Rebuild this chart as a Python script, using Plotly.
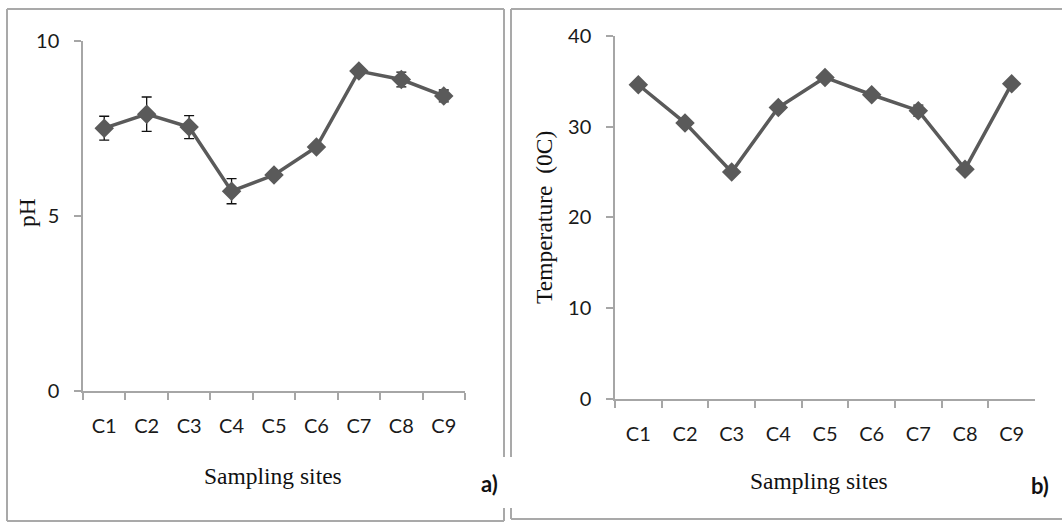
import plotly.graph_objects as go

sites = ["C1", "C2", "C3", "C4", "C5", "C6", "C7", "C8", "C9"]
ph_values = [7.51, 7.91, 7.54, 5.71, 6.17, 6.97, 9.14, 8.90, 8.43]
ph_errors = [0.34, 0.49, 0.33, 0.36, 0.0, 0.0, 0.0, 0.21, 0.17]
temp_values = [34.6, 30.4, 25.0, 32.1, 35.4, 33.5, 31.75, 25.3, 34.7]
temp_errors = [0, 0, 0, 0, 0, 0, 0.6, 0, 0]
ph_ticks = [0, 5, 10]
temp_ticks = [0, 10, 20, 30, 40]

W, H = 1062, 522
def px(x): return x / W
def py(y): return 1 - y / H

LINE = "#5a5a5a"
AXC = "#a6a6a6"
TICKFONT = dict(family="Lato, Open Sans, sans-serif", size=20, color="#1a1a1a")
SERIF = dict(family="Liberation Serif, Times New Roman, serif", size=23.5, color="#111111")

fig = go.Figure()
fig.add_trace(go.Scatter(
    x=sites, y=ph_values, mode="lines+markers", xaxis="x", yaxis="y",
    line=dict(color=LINE, width=3.5),
    marker=dict(symbol="diamond", size=15, color=LINE),
    error_y=dict(type="data", array=ph_errors, visible=True, color="#111111", thickness=1.3, width=5),
    showlegend=False,
))
fig.add_trace(go.Scatter(
    x=sites, y=temp_values, mode="lines+markers", xaxis="x2", yaxis="y2",
    line=dict(color=LINE, width=3.5),
    marker=dict(symbol="diamond", size=15, color=LINE),
    error_y=dict(type="data", array=temp_errors, visible=True, color="#111111", thickness=1.3, width=5),
    showlegend=False,
))

xcommon = dict(type="category", showgrid=False, zeroline=False, showline=True, linecolor=AXC, linewidth=1.5,
               ticks="outside", tickson="boundaries", ticklen=7, tickcolor=AXC, tickwidth=1.5,
               tickfont=TICKFONT, ticklabelstandoff=16, range=[-0.5, 8.5], fixedrange=True,
               automargin=False)
ycommon = dict(showgrid=False, zeroline=False, showline=True, linecolor=AXC, linewidth=1.5,
               ticks="outside", ticklen=7, tickcolor=AXC, tickwidth=1.5, tickfont=TICKFONT,
               ticklabelstandoff=11, fixedrange=True, automargin=False)

fig.update_layout(
    template="none",
    width=W, height=H, margin=dict(l=0, r=0, t=0, b=0, pad=0, autoexpand=False),
    paper_bgcolor="white", plot_bgcolor="white",
    xaxis=dict(xcommon, domain=[px(83), px(465)], anchor="y"),
    yaxis=dict(ycommon, domain=[py(391), py(41)], range=[0, 10], tickvals=ph_ticks, anchor="x"),
    xaxis2=dict(xcommon, domain=[px(615), px(1035)], anchor="y2"),
    yaxis2=dict(ycommon, domain=[py(399), py(35.7)], range=[0, 40], tickvals=temp_ticks, anchor="x2"),
)

# panel borders
BC = "#a9a9a9"
segs = [
    (7, 9, 504, 9), (7, 9, 7, 521), (7, 521, 504, 521), (504, 9, 504, 457), (504, 508, 504, 521),
    (511, 9, 1062, 9), (511, 9, 511, 457), (511, 508, 511, 519), (511, 519, 1062, 519),
]
for x0, y0, x1, y1 in segs:
    fig.add_shape(type="line", xref="paper", yref="paper", x0=px(x0), y0=py(y0), x1=px(x1), y1=py(y1),
                  line=dict(color=BC, width=2))

ann = [
    dict(text="Sampling sites", x=px(273), y=py(476), font=SERIF),
    dict(text="Sampling sites", x=px(819), y=py(481), font=SERIF),
    dict(text="pH", x=px(27), y=py(213), font=SERIF, textangle=-90),
    dict(text="Temperature  (0C)", x=px(544), y=py(218), font=SERIF, textangle=-90),
    dict(text="<b>a)</b>", x=px(489), y=py(483), font=dict(family="Lato, sans-serif", size=22, color="#111111")),
    dict(text="<b>b)</b>", x=px(1040), y=py(485), font=dict(family="Lato, sans-serif", size=22, color="#111111")),
]
for a in ann:
    fig.add_annotation(xref="paper", yref="paper", showarrow=False, xanchor="center", yanchor="middle", **a)

fig.write_html("out.html", config={"displayModeBar": False},
               post_script="document.body.style.margin='0';document.body.style.overflow='hidden';")
